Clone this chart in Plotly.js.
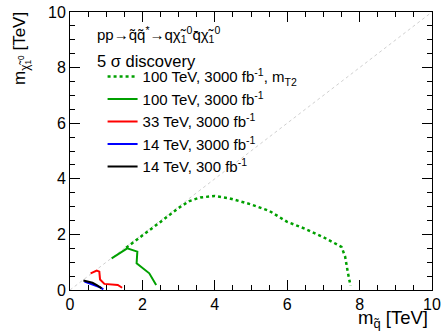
<!DOCTYPE html>
<html><head><meta charset="utf-8">
<script src="https://cdn.plot.ly/plotly-3.0.1.min.js"></script>
<style>body{margin:0;padding:0;background:#fff}#chart{width:442px;height:334px}</style>
</head><body><div id="chart"></div>
<script>
// 100 TeV, 3000 fb-1, mT2 (dotted)
const mt2_x = [1.55, 2.0, 2.5, 3.0, 3.3, 3.6, 4.0, 4.4, 5.0, 5.5, 6.0, 6.5, 7.0, 7.5, 7.6, 7.68, 7.75];
const mt2_y = [1.52, 1.95, 2.45, 2.95, 3.2, 3.33, 3.38, 3.3, 3.08, 2.85, 2.45, 2.2, 1.9, 1.55, 1.2, 0.6, 0.15];
// 100 TeV, 3000 fb-1
const g100_x = [1.15, 1.58, 1.86, 1.84, 2.19, 2.38];
const g100_y = [1.14, 1.50, 1.38, 0.96, 0.60, 0.18];
// 33 TeV, 3000 fb-1
const r33_x = [0.57, 0.74, 0.81, 0.83, 0.95, 1.22, 1.32, 1.44];
const r33_y = [0.60, 0.70, 0.66, 0.38, 0.22, 0.21, 0.18, 0.08];
// 14 TeV, 3000 fb-1
const b14_x = [0.40, 0.55, 0.70, 0.83, 0.92];
const b14_y = [0.30, 0.24, 0.18, 0.10, 0.02];
// 14 TeV, 300 fb-1
const k14_x = [0.37, 0.50, 0.62, 0.74, 0.87];
const k14_y = [0.34, 0.30, 0.26, 0.18, 0.06];
// diagonal
const diag_x = [0, 10];
const diag_y = [0, 10];

const names = ['100 TeV, 3000 fb<sup>-1</sup>, m<sub>T2</sub>', '100 TeV, 3000 fb<sup>-1</sup>', '33 TeV, 3000 fb<sup>-1</sup>', '14 TeV, 3000 fb<sup>-1</sup>', '14 TeV, 300 fb<sup>-1</sup>'];
const green = '#00a000';
const FONT = 'Liberation Sans, Arial, sans-serif';

const traces = [
  {x: diag_x, y: diag_y, mode: 'lines', line: {color: '#d0d0d0', width: 1, dash: 'dot'}, showlegend: false, hoverinfo: 'skip'},
  {x: mt2_x, y: mt2_y, mode: 'lines', name: names[0], line: {color: green, width: 2.5, dash: 'dot'}},
  {x: g100_x, y: g100_y, mode: 'lines', name: names[1], line: {color: green, width: 2}},
  {x: r33_x, y: r33_y, mode: 'lines', name: names[2], line: {color: '#ff0000', width: 2}},
  {x: b14_x, y: b14_y, mode: 'lines', name: names[3], line: {color: '#0000ff', width: 2}},
  {x: k14_x, y: k14_y, mode: 'lines', name: names[4], line: {color: '#000000', width: 2}}
];

const axisCommon = {
  range: [0, 10], dtick: 2, tick0: 0, ticks: 'inside', ticklen: 10, tickwidth: 1, tickcolor: '#000',
  showline: true, linecolor: '#000', linewidth: 1, mirror: 'ticks', showgrid: false, zeroline: false,
  tickfont: {family: FONT, size: 16, color: '#000'},
  minor: {dtick: 0.5, ticks: 'inside', ticklen: 5, tickcolor: '#000', showgrid: false}
};

const layout = {
  width: 442, height: 334,
  margin: {l: 70, r: 10, t: 12, b: 44},
  paper_bgcolor: '#fff', plot_bgcolor: '#fff',
  font: {family: FONT, color: '#000', size: 15},
  xaxis: Object.assign({}, axisCommon),
  yaxis: Object.assign({}, axisCommon),
  showlegend: true,
  legend: {x: 0.09, y: 0.826, xanchor: 'left', yanchor: 'top', bgcolor: 'rgba(0,0,0,0)', borderwidth: 0,
           font: {size: 15, family: FONT}, tracegroupgap: 0},
  annotations: [
    {xref: 'paper', yref: 'paper', x: 0.79, y: 0, xanchor: 'left', yanchor: 'top', yshift: -15, showarrow: false,
     text: 'm<sub>q\u0303</sub> [TeV]', font: {size: 18.5}},
    {xref: 'paper', yref: 'paper', x: 0, y: 1, xanchor: 'right', yanchor: 'top', xshift: -35, yshift: 2, showarrow: false,
     textangle: -90, text: 'm<sub>\u03c7\u0303<sub>1</sub><sup>0</sup></sub> [TeV]', font: {size: 17}},
    {xref: 'paper', yref: 'paper', x: 0.07, y: 0.918, xanchor: 'left', yanchor: 'middle', showarrow: false,
     text: 'pp\u2192q\u0303q\u0303<sup>*</sup>\u2192q\u03c7\u0303<sub>1</sub><sup>0</sup>q\u0304\u03c7\u0303<sub>1</sub><sup>0</sup>', font: {size: 15}},
    {xref: 'paper', yref: 'paper', x: 0.07, y: 0.825, xanchor: 'left', yanchor: 'middle', showarrow: false,
     text: '5 \u03c3 discovery', font: {size: 16.5}}
  ]
};

Plotly.newPlot('chart', traces, layout, {displayModeBar: false, staticPlot: true});
</script>
</body></html>
